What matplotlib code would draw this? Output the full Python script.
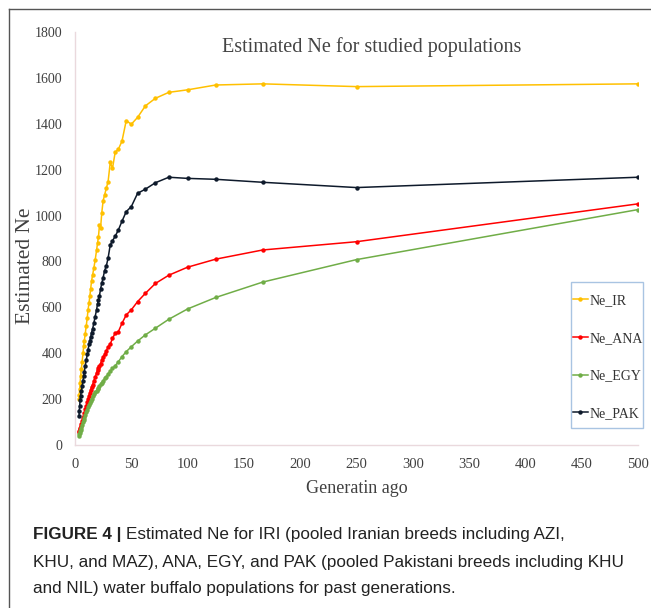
import matplotlib
matplotlib.use("Agg")
import matplotlib.pyplot as plt
from matplotlib.lines import Line2D
from matplotlib.patches import Rectangle

# ---- data (generations ago) ----
generations = [500, 250, 166.7, 125, 100, 83.3, 71.4, 62.5, 55.6, 50,
               45.5, 41.7, 38.5, 35.7, 33.3, 31.3, 29.4, 27.8, 26.3, 25,
               23.8, 22.7, 21.7, 20.8, 20, 19.2,
               17.9, 16.7, 15.6, 14.7, 13.9, 13.2, 12.5,
               11.6, 10.9, 10, 9.1, 8.3, 7.7, 7.1,
               6.3, 5.6, 5, 4.5, 4.2, 3.8, 3.6]

ne_ir = [1574, 1562, 1574, 1569, 1548, 1537, 1511, 1478, 1428, 1398,
         1414, 1324, 1289, 1276, 1206, 1232, 1148, 1119, 1090, 1065,
         1013, 945, 958, 905, 880, 850,
         806, 770, 740, 715, 680, 650, 620,
         590, 555, 520, 485, 455, 430, 400,
         360, 330, 300, 270, 245, 220, 200]

ne_ana = [1051, 886, 850, 810, 775, 740, 704, 661, 625, 589,
          567, 530, 494, 487, 465, 440, 428, 410, 395, 385,
          370, 355, 345, 335, 327, 315,
          295, 280, 262, 254, 240, 228, 215,
          200, 187, 172, 155, 140, 128, 118,
          103, 92, 83, 75, 68, 62, 58]

ne_egy = [1026, 808, 710, 643, 593, 548, 509, 480, 453, 428,
          407, 385, 363, 345, 334, 322, 310, 298, 290, 280,
          272, 265, 257, 250, 243, 236,
          230, 222, 212, 202, 193, 184, 176,
          164, 154, 142, 130, 119, 109, 101,
          87, 76, 67, 59, 52, 46, 40]

ne_pak = [1167, 1122, 1145, 1158, 1162, 1167, 1143, 1115, 1097, 1039,
          1017, 975, 937, 910, 890, 872, 815, 780, 760, 730,
          705, 680, 650, 630, 615, 590,
          560, 530, 505, 490, 470, 455, 440,
          415, 395, 370, 345, 320, 300, 280,
          255, 235, 215, 195, 172, 150, 125]

series_names = ["Ne_IR", "Ne_ANA", "Ne_EGY", "Ne_PAK"]
series_values = [ne_ir, ne_ana, ne_egy, ne_pak]
series_colors = ["#FFC000", "#FF0000", "#70AD47", "#0E1A2B"]

x_ticks = [0, 50, 100, 150, 200, 250, 300, 350, 400, 450, 500]
y_ticks = [0, 200, 400, 600, 800, 1000, 1200, 1400, 1600, 1800]

W, H = 651, 608
AX_L, AX_R, AX_T, AX_B = 75, 638, 32, 445
fig = plt.figure(figsize=(W / 100, H / 100), dpi=100)
ax = fig.add_axes([AX_L / W, 1 - AX_B / H, (AX_R - AX_L) / W, (AX_B - AX_T) / H])


def ax_x(px):
    return (px - AX_L) / (AX_R - AX_L)


def ax_y(py):
    return (AX_B - py) / (AX_B - AX_T)


for name, vals, col in zip(series_names, series_values, series_colors):
    ax.plot(generations, vals, color=col, lw=1.1, marker="o", ms=3.2,
            markeredgewidth=0, label=name)

ax.set_xlim(0, 500)
ax.set_ylim(0, 1800)
ax.set_xticks(x_ticks)
ax.set_yticks(y_ticks)
serif = "Liberation Serif"
ax.set_xticklabels([str(t) for t in x_ticks], fontfamily=serif, fontsize=10.5, color="#404040")
ax.set_yticklabels([str(t) for t in y_ticks], fontfamily=serif, fontsize=10, color="#404040")
ax.tick_params(axis="both", length=0)
ax.tick_params(axis="y", pad=9)
ax.tick_params(axis="x", pad=9)
for s in ["top", "right"]:
    ax.spines[s].set_visible(False)
for s in ["left", "bottom"]:
    ax.spines[s].set_color("#EAD9DD")
    ax.spines[s].set_linewidth(1.0)

ax.set_xlabel("Generatin ago", fontfamily=serif, fontsize=13, color="#404040")
ax.xaxis.set_label_coords(0.5, -0.085)
ax.set_ylabel("Estimated Ne", fontfamily=serif, fontsize=15.5, color="#404040")
ax.yaxis.set_label_coords(ax_x(35), 0.433)

fig.text(372 / W, 1 - 47 / H, "Estimated Ne for studied populations",
         fontfamily=serif, fontsize=14.5, color="#444444", ha="center", va="center")

# legend box drawn as a rectangle, entries placed inside it
ax.add_patch(Rectangle((ax_x(571), ax_y(428)), ax_x(643) - ax_x(571), ax_y(282) - ax_y(428),
                       transform=ax.transAxes, facecolor="white", edgecolor="#A9C4E2",
                       lw=1.0, clip_on=False, zorder=4))
leg = ax.legend(loc="upper left", bbox_to_anchor=(ax_x(571), ax_y(292)),
                prop={"family": serif, "size": 10},
                handlelength=1.05, handletextpad=0.1, labelspacing=1.78,
                borderpad=0.15, borderaxespad=0, frameon=False)
leg.set_zorder(5)
for t in leg.get_texts():
    t.set_color("#333333")

# outer frame (top and left edges visible)
fig.add_artist(Line2D([9 / W, 9 / W], [0, 1 - 9 / H], color="#555555", lw=1.0))
fig.add_artist(Line2D([9 / W, 1], [1 - 9 / H, 1 - 9 / H], color="#555555", lw=1.0))

# caption
cap_font = "Liberation Sans"
cap_size = 12.3
x0 = 33 / W
bold = fig.text(x0, 1 - 535 / H, "FIGURE 4 | ", fontfamily=cap_font, fontweight="bold",
                fontsize=cap_size, color="#222222", va="center")
fig.canvas.draw()
bb = bold.get_window_extent(renderer=fig.canvas.get_renderer())
fig.text(bb.x1 / W, 1 - 535 / H,
         "Estimated Ne for IRI (pooled Iranian breeds including AZI,",
         fontfamily=cap_font, fontsize=cap_size, color="#222222", va="center")
fig.text(x0, 1 - 562 / H,
         "KHU, and MAZ), ANA, EGY, and PAK (pooled Pakistani breeds including KHU",
         fontfamily=cap_font, fontsize=cap_size, color="#222222", va="center")
fig.text(x0, 1 - 589 / H,
         "and NIL) water buffalo populations for past generations.",
         fontfamily=cap_font, fontsize=cap_size, color="#222222", va="center")

fig.savefig("out.png", dpi=100)
